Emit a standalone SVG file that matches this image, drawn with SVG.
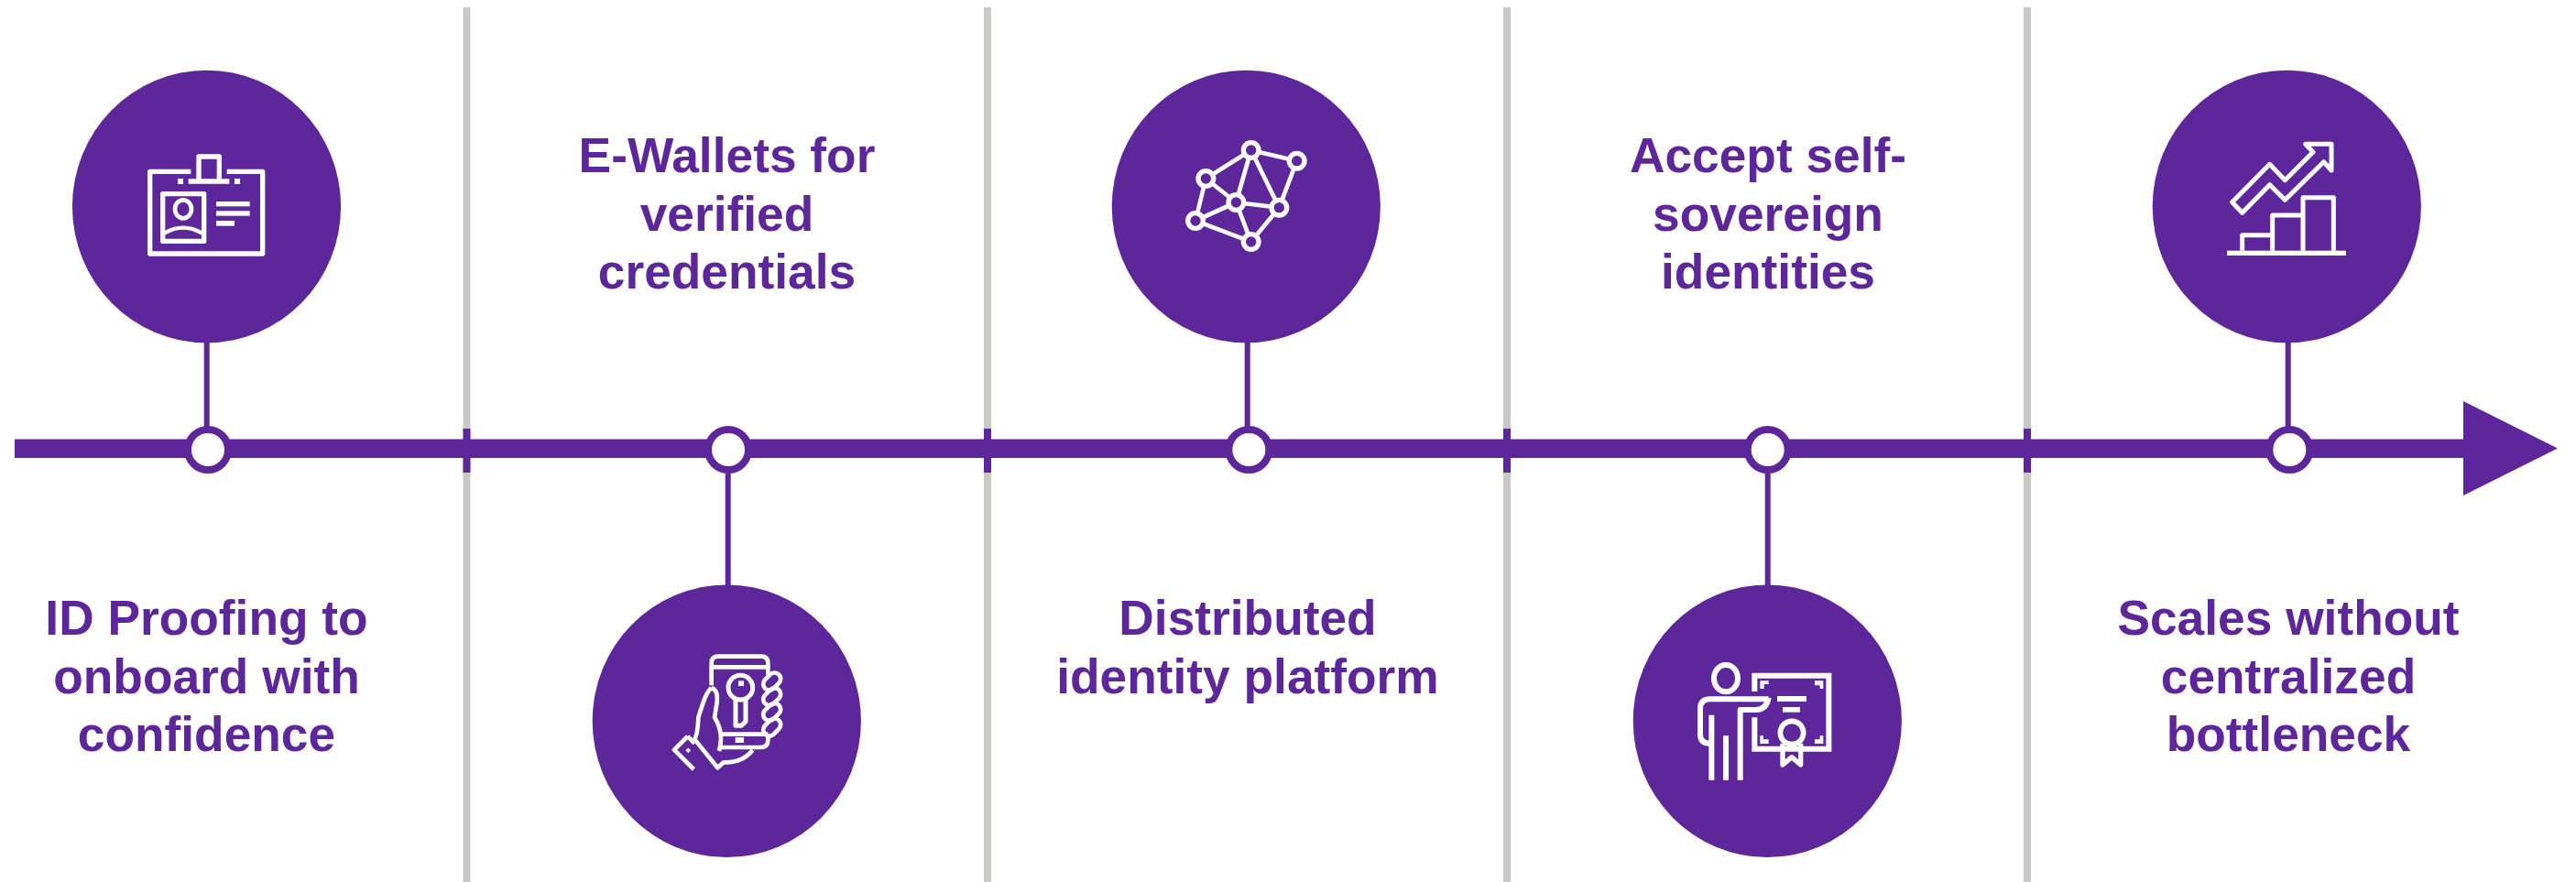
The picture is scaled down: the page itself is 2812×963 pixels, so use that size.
<svg xmlns="http://www.w3.org/2000/svg" width="2812" height="963" viewBox="0 0 2812 963">
<style>
.div{fill:#C8C8C4}
.p{fill:#5E269B}
.stem{stroke:#5E269B;stroke-width:6;fill:none}
.ring{fill:#fff;stroke:#5E269B;stroke-width:8}
.big{fill:#5E269B}
.ic{fill:none;stroke:#fff;stroke-width:16;stroke-linejoin:round}
.i4{stroke-width:18}
.w{fill:#fff}
text{font-family:"Liberation Sans",Arial,sans-serif;font-weight:700;font-size:53.300px;fill:#5E269B;text-anchor:middle}
</style>
<rect width="2812" height="963" fill="#fff"/>
<g id="dividers">
<rect class="div" x="505.500" y="8" width="8" height="955"/>
<rect class="div" x="1074" y="8" width="8" height="955"/>
<rect class="div" x="1641" y="8" width="8" height="955"/>
<rect class="div" x="2209" y="8" width="8" height="955"/>
</g>
<g id="connectors">
<rect class="p" x="16" y="479.500" width="2674" height="20.500"/>
<polygon class="p" points="2689,438 2792,489.500 2689,541"/>
<rect class="p" x="505.500" y="468" width="8" height="48"/>
<rect class="p" x="1074" y="468" width="8" height="48"/>
<rect class="p" x="1641" y="468" width="8" height="48"/>
<rect class="p" x="2209" y="468" width="8" height="48"/>
<path class="stem" d="M225.700 372V466M794.700 517V640M1361.700 372V466M1929.700 517V640M2497.700 372V466"/>
</g>
<g id="node-1">
<circle class="ring" cx="227" cy="491" r="22"/>
<ellipse class="big" cx="225.500" cy="225.500" rx="146.600" ry="148.800"/>
<g transform="translate(60 60) scale(.33333)">
<path class="ic" d="M445 382H311V651H680V382H563M471 413V333H538V413M437 414H571"/>
<rect class="w" x="402" y="405" width="18" height="18"/><rect class="w" x="588" y="405" width="18" height="18"/>
<rect class="ic" x="353" y="455" width="135" height="155"/>
<ellipse class="ic" style="stroke-width:14" cx="420" cy="505" rx="27" ry="30"/>
<path class="ic" style="stroke-width:13" d="M358 584Q420 548 482 584"/>
<rect class="w" x="528" y="480" width="110" height="16"/><rect class="w" x="528" y="511" width="110" height="16"/><rect class="w" x="528" y="543" width="60" height="17"/>
</g>
<text x="225.500" y="693">ID Proofing to</text><text x="225.500" y="756.500">onboard with</text><text x="225.500" y="820">confidence</text>
</g>
<g id="node-2">
<circle class="ring" cx="795" cy="491" r="22"/>
<ellipse class="big" cx="793.300" cy="787.200" rx="146.600" ry="148.800"/>
<g transform="translate(630 620) scale(.33333)">
<path class="ic" style="stroke-width:14" d="M440 385V312Q440 290 462 290H603Q625 290 625 312V350M440 325H625M470 545H625M625 545V565Q625 588 600 588H470"/>
<circle class="ic" style="stroke-width:15" cx="535" cy="392" r="40"/>
<path class="ic" style="stroke-width:15" d="M519 428V517H538L552 503V428"/>
<rect class="w" x="528" y="370" width="18" height="17"/><rect class="w" x="518" y="555" width="28" height="18"/>
<g class="ic" style="stroke-width:14"><rect x="606" y="352" width="64" height="40" rx="20" transform="rotate(-45 638 372)"/><rect x="606" y="402" width="64" height="40" rx="20" transform="rotate(-45 638 422)"/><rect x="606" y="452" width="64" height="40" rx="20" transform="rotate(-45 638 472)"/><rect x="606" y="502" width="64" height="40" rx="20" transform="rotate(-45 638 522)"/></g>
<path class="ic" style="stroke-width:14" d="M440 393C420 410 410 450 397 490C395 520 397 535 385 562L460 655L480 637Q540 640 575 597M440 393Q462 400 458 440L450 490Q482 540 465 600M362 552L318 596L382 660M362 552L385 575"/>
<rect class="w" x="358" y="592" width="12" height="12" transform="rotate(-45 364 598)"/>
</g>
<text x="793.500" y="188">E-Wallets for</text><text x="793.500" y="251.500">verified</text><text x="793.500" y="315">credentials</text>
</g>
<g id="node-3">
<circle class="ring" cx="1363.300" cy="491" r="22"/>
<ellipse class="big" cx="1360.300" cy="225.500" rx="146.600" ry="148.800"/>
<g transform="translate(1200 60) scale(.33333)">
<path class="ic" style="stroke-width:14" d="M497 312L647 347M497 312L349 405M497 312L448 483M497 312L589 500M647 347L589 500M349 405L448 483M349 405L315 543M448 483L589 500M448 483L315 543M448 483L497 612M589 500L497 612M315 543L497 612"/>
<g fill="#5E269B" stroke="#fff" stroke-width="16"><circle cx="497" cy="312" r="25"/><circle cx="647" cy="347" r="25"/><circle cx="349" cy="405" r="25"/><circle cx="448" cy="483" r="25"/><circle cx="589" cy="500" r="25"/><circle cx="315" cy="543" r="25"/><circle cx="497" cy="612" r="25"/></g>
</g>
<text x="1362" y="692.500">Distributed</text><text x="1362" y="756.500">identity platform</text>
</g>
<g id="node-4">
<circle class="ring" cx="1929.700" cy="491" r="22"/>
<ellipse class="big" cx="1929.300" cy="787.200" rx="146.600" ry="148.800"/>
<g transform="translate(1760 620) scale(.33333)">
<ellipse class="ic i4" cx="372" cy="362" rx="39" ry="44"/>
<path class="ic i4" d="M512 430H320Q288 430 288 462V545Q288 575 320 575H325M512 425Q505 465 470 465H419V695M325 482V695M372 550V695"/>
<path class="ic i4" style="stroke-linejoin:miter" d="M466 405V353H709V593.500H466V490"/>
<path class="w" d="M484 370H512V381H497V396H484ZM691 370V396H680V385H663V370ZM484 576V550H495V562H512V576ZM691 576H663V562H680V550H691Z"/>
<rect class="w" x="540" y="420" width="96" height="18"/><rect class="w" x="558" y="456" width="57" height="17"/>
<path class="ic" d="M558 575V645L588 620L617 645V575"/>
<circle cx="588" cy="540" r="38" fill="#5E269B" stroke="#fff" stroke-width="17"/>
</g>
<text x="1930" y="188">Accept self-</text><text x="1930" y="251.500">sovereign</text><text x="1930" y="315">identities</text>
</g>
<g id="node-5">
<circle class="ring" cx="2499.300" cy="491" r="22"/>
<ellipse class="big" cx="2496.300" cy="225.500" rx="146.600" ry="148.800"/>
<g transform="translate(2330 60) scale(.33333)">
<rect class="w" x="303" y="641" width="390" height="16"/>
<path class="ic" style="stroke-width:15" d="M353 641V590H452M452 641V525H552M552 641V467H652V641"/>
<path class="ic" style="stroke-width:15" d="M320 482L443 358L493 410L585 318L560 292H645V378L620 350L493 475L443 425L353 517Z"/>
</g>
<text x="2498" y="693">Scales without</text><text x="2498" y="756.500">centralized</text><text x="2498" y="820">bottleneck</text>
</g>
</svg>
